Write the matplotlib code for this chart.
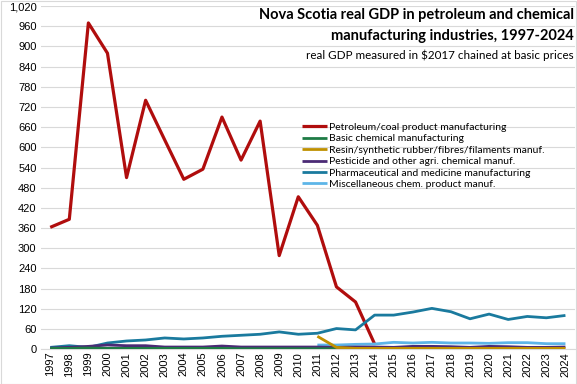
import numpy as np
import matplotlib
matplotlib.use('Agg')
import matplotlib.pyplot as plt

years = list(range(1997, 2025))
nan = np.nan

# real GDP, $2017 chained (millions)
petroleum = [362, 386, 970, 880, 510, 740, 622, 505, 535, 690, 562, 678, 278, 453,
             368, 185, 140, 15] + [nan] * 10
basic_chem = [2, 2, 3, 2, 2, 2, 2, 2, 2, 2, 1, 1, 1, 1, 1, 1] + [nan] * 12
resin = [nan] * 14 + [38, 5, 2, 2, 2, 2, 2, 2, 2, 2, 2, 2, 2, 2]
pesticide = [3, 5, 8, 12, 10, 10, 6, 6, 6, 9, 6, 6, 6, 6, 6, 5, 6, 6, 5, 8, 8, 7,
             5, 8, 7, 5, 5, 6]
pharma = [5, 10, 5, 18, 24, 27, 33, 30, 33, 38, 41, 44, 51, 44, 47, 61, 57, 101,
          101, 110, 121, 111, 90, 104, 88, 97, 93, 100]
misc = [nan] * 14 + [12, 12, 14, 15, 20, 18, 20, 18, 18, 17, 19, 19, 16, 16]

labels = ['Petroleum/coal product manufacturing',
          'Basic chemical manufacturing',
          'Resin/synthetic rubber/fibres/filaments manuf.',
          'Pesticide and other agri. chemical manuf.',
          'Pharmaceutical and medicine manufacturing',
          'Miscellaneous chem. product manuf.']
colors = ['#B00D0D', '#1E7B45', '#BF9000', '#4B2A75', '#1A7A9E', '#5DB5E8']
series = [petroleum, basic_chem, resin, pesticide, pharma, misc]

fig = plt.figure(figsize=(5.77, 3.84), dpi=100)
ax = fig.add_axes([0.0705, 0.091, 0.926, 0.893])

# draw so the small series sit on top in the right order
order = [0, 4, 5, 3, 1, 2]
handles = {}
for i in order:
    lw = 2.3 if i == 0 else 2.0
    h, = ax.plot(years, series[i], color=colors[i], lw=lw, label=labels[i],
                 solid_capstyle='butt', zorder=3)
    handles[i] = h

ax.set_xlim(1996.5, 2024.5)
ax.set_ylim(0, 1020)
ax.set_yticks(range(0, 1021, 60))
ax.set_yticklabels([f'{v:,}' for v in range(0, 1021, 60)])
ax.set_xticks(years)
ax.set_xticklabels([str(y) for y in years], rotation=90)
ax.tick_params(axis='both', labelsize=8, length=0, pad=3)
ax.tick_params(axis='x', pad=2)
for lab in ax.get_xticklabels() + ax.get_yticklabels():
    lab.set_fontfamily('Liberation Sans')
ax.grid(axis='y', color='#D9D9D9', lw=0.8)
ax.set_axisbelow(True)
for s in ['top', 'right', 'left']:
    ax.spines[s].set_visible(False)
ax.spines['bottom'].set_color('#D9D9D9')

leg = ax.legend([handles[i] for i in range(6)], labels, loc='upper left',
                bbox_to_anchor=(0.482, 0.672), frameon=False,
                handlelength=2.4, handletextpad=0.2, labelspacing=0.2,
                borderaxespad=0, prop={'family': 'Lato', 'size': 7.5})

fig.text(0.995, 0.962, 'Nova Scotia real GDP in petroleum and chemical',
         ha='right', va='center', fontsize=10.5, fontweight='bold',
         family='Lato')
fig.text(0.995, 0.905, 'manufacturing industries, 1997-2024',
         ha='right', va='center', fontsize=10.5, fontweight='bold',
         family='Lato')
fig.text(0.995, 0.857, 'real GDP measured in $2017 chained at basic prices',
         ha='right', va='center', fontsize=8.4, family='Lato')

fig.patches.append(plt.Rectangle((0.001, 0.001), 0.997, 0.997, transform=fig.transFigure,
                                 fill=False, edgecolor='#D9D9D9', lw=0.8))

fig.savefig('out.png', dpi=100)
